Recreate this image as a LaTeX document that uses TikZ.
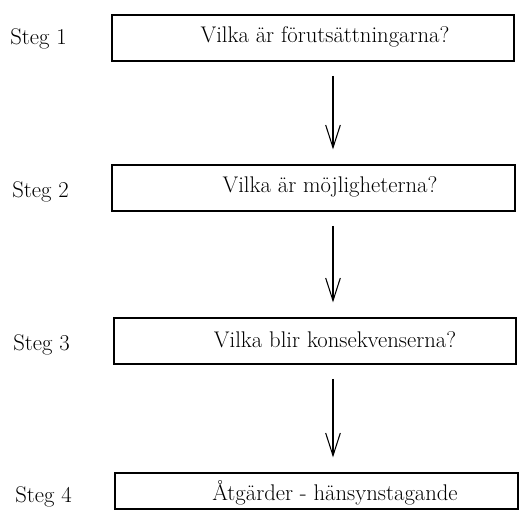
\documentclass[tikz,border=0pt]{standalone}
\usepackage{tikz}
\usetikzlibrary{positioning,arrows.meta,calc}
\tikzstyle{every node}=[font=\fontsize{17}{20}\selectfont]
\tikzstyle{stepbox}=[draw, line width=1.4pt, inner sep=0pt, minimum width=302pt]
\tikzstyle{steptext}=[inner sep=0pt, anchor=base]
\tikzstyle{steglabel}=[inner sep=0pt, anchor=base west]
\tikzstyle{flow}=[line width=0.8pt, -{Straight Barb[length=17pt,width=11pt]},
  shorten <=10.5pt, shorten >=11pt]

\begin{document}
\begin{tikzpicture}[x=0.75pt,y=-0.75pt]
    \useasboundingbox (0,0) rectangle (520,513);
    \node[stepbox, minimum height=34.5pt] (b1) at (313,38) {};
    \node[stepbox, minimum height=34.5pt] (b2) at (313.5,188) {};
    \node[stepbox, minimum height=34.5pt] (b3) at (315,341) {};
    \node[stepbox, minimum height=27pt] (b4) at (316.5,491) {};
    \node[steptext] (t1) at (325,43) {Vilka är förutsättningarna?};
    \node[steptext] (t2) at (330,193) {Vilka är möjligheterna?};
    \node[steptext] (t3) at (335,347) {Vilka blir konsekvenserna?};
    \node[steptext] (t4) at (335,500) {Åtgärder - hänsynstagande};
    \node[steglabel] (s1) at (10,45) {Steg 1};
    \node[steglabel] (s2) at (12,197) {Steg 2};
    \node[steglabel] (s3) at (13,350) {Steg 3};
    \node[steglabel] (s4) at (15,502) {Steg 4};
    \coordinate (ax) at (333,0);
    \draw[flow] (b1.south -| ax) -- (b2.north -| ax);
    \draw[flow] (b2.south -| ax) -- (b3.north -| ax);
    \draw[flow] (b3.south -| ax) -- (b4.north -| ax);
\end{tikzpicture}
\end{document}
